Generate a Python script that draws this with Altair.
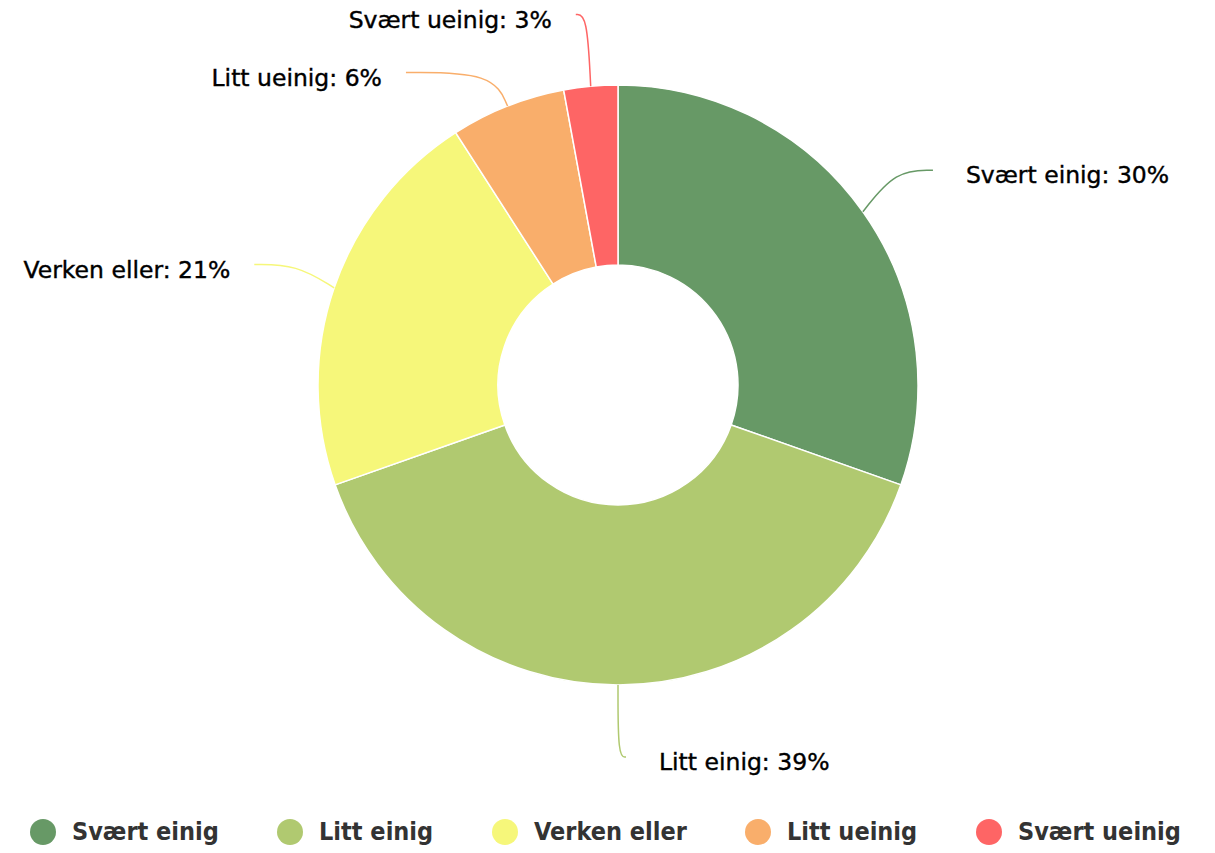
import altair as alt
import pandas as pd

categories = ["Svært einig", "Litt einig", "Verken eller", "Litt ueinig", "Svært ueinig"]
shares = [30.4, 39.2, 21.3, 6.2, 2.9]
colors = ["#679966", "#b0c970", "#f6f77a", "#f9ae6b", "#fe6565"]

df = pd.DataFrame({
    "category": categories,
    "share": shares,
    "order": list(range(len(categories))),
})

CX, CY = 610, 377
R_OUT, R_IN = 300, 120
RY, RX = 372, 376
SPACING = 58
FONT = "DejaVu Sans"
LEGEND_FONT = "DejaVu Sans Condensed"

color_scale = alt.Scale(domain=categories, range=colors)

base = alt.Chart(df).transform_joinaggregate(
    total="sum(share)"
).transform_window(
    cum="sum(share)", sort=[alt.SortField("order")], frame=[None, 0]
).transform_calculate(
    mid="((datum.cum - datum.share / 2) / datum.total) * 2 * PI",
    pct="round(datum.share / datum.total * 100)",
).transform_calculate(
    side="datum.mid <= PI + 0.001 ? 1 : -1",
    yn=f"{CY} - {RY} * cos(datum.mid)",
    xs=f"{CX} + {R_OUT} * sin(datum.mid)",
    ys=f"{CY} - {R_OUT} * cos(datum.mid)",
    xe0=f"{CX} + 340 * sin(datum.mid)",
    label="datum.category + ': ' + datum.pct + '%'",
).transform_window(
    rank="row_number()", groupby=["side"], sort=[alt.SortField("yn")]
).transform_calculate(
    t=f"datum.yn - (datum.rank - 1) * {SPACING}"
).transform_window(
    tmax="max(t)", groupby=["side"], sort=[alt.SortField("yn")], frame=[None, 0]
).transform_calculate(
    ye=f"(datum.rank - 1) * {SPACING} + datum.tmax"
).transform_calculate(
    xe=f"{CX} + datum.side * ({RX} * sqrt(max(0, 1 - pow((datum.ye - {CY}) / {RY}, 2))) + 8)",
).transform_calculate(
    lx="datum.xe + (datum.side > 0 ? 33 : -24)",
    ly="datum.ye + 6",
)

arcs = alt.Chart(df).mark_arc(
    innerRadius=R_IN, outerRadius=R_OUT, stroke="white", strokeWidth=1.5
).encode(
    theta=alt.Theta("share:Q", stack=True),
    order=alt.Order("order:Q"),
    color=alt.Color(
        "category:N",
        scale=color_scale,
        sort=categories,
        legend=alt.Legend(
            title=None,
            orient="none",
            legendX=22,
            legendY=811,
            direction="horizontal",
            columns=5,
            symbolType="circle",
            symbolSize=676,
            symbolStrokeWidth=0,
            labelFont=LEGEND_FONT,
            labelFontSize=25,
            labelFontWeight="bold",
            labelColor="#333333",
            labelOffset=16,
            columnPadding=58,
            padding=0,
            labelLimit=400,
        ),
    ),
    x=alt.value(CX),
    y=alt.value(CY),
)

lines = base.transform_calculate(
    pts="[0, 1, 2]"
).transform_flatten(["pts"]).transform_calculate(
    px="datum.pts == 0 ? datum.xs : (datum.pts == 1 ? datum.xe0 : datum.xe)",
    py="datum.pts == 0 ? datum.ys : datum.ye",
).mark_line(interpolate="basis", strokeWidth=1.5).encode(
    x=alt.X("px:Q", scale=None, axis=None),
    y=alt.Y("py:Q", scale=None, axis=None),
    detail="category:N",
    order=alt.Order("pts:Q"),
    stroke=alt.Stroke("category:N", scale=color_scale, legend=None),
)

text_style = dict(
    baseline="middle", font=FONT, fontSize=23.5, color="#000000",
    stroke="#000000", strokeWidth=0.4,
)

text_right = base.transform_filter("datum.side > 0").mark_text(
    align="left", **text_style
).encode(
    x=alt.X("lx:Q", scale=None, axis=None),
    y=alt.Y("ly:Q", scale=None, axis=None),
    text="label:N",
)

text_left = base.transform_filter("datum.side < 0").mark_text(
    align="right", **text_style
).encode(
    x=alt.X("lx:Q", scale=None, axis=None),
    y=alt.Y("ly:Q", scale=None, axis=None),
    text="label:N",
)

chart = alt.layer(arcs, lines, text_right, text_left).properties(
    width=1199, height=832, padding=0
).configure_view(stroke=None).resolve_scale(x="independent", y="independent")

chart.save("out.html", embed_options={"renderer": "svg", "actions": False})
